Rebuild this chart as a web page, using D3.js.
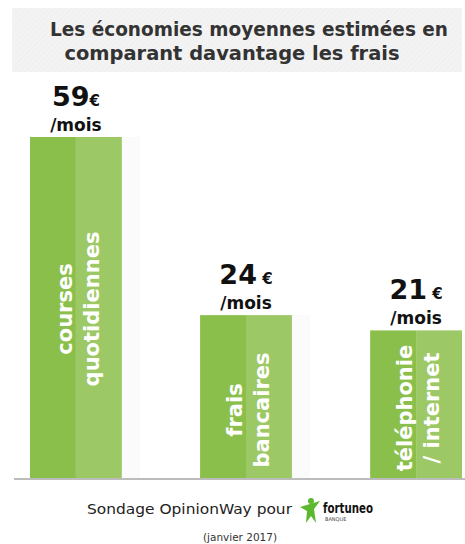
<!DOCTYPE html>
<html>
<head>
<meta charset="utf-8">
<script src="https://cdn.jsdelivr.net/npm/d3@7"></script>
<style>
  html, body { margin: 0; padding: 0; background: #fff; }
  svg { display: block; }
</style>
</head>
<body>
<div id="chart"></div>
<script>
// data
const categories = ['courses quotidiennes', 'frais bancaires', 'téléphonie / internet'];
const labelLines = [['courses', 'quotidiennes'], ['frais', 'bancaires'], ['téléphonie', '/ internet']];
const savings = [59, 24, 21];
const unitLabel = '/mois';
const titleLines = ['Les économies moyennes estimées en', 'comparant davantage les frais'];

const width = 465;
const height = 544;
const font = '"DejaVu Sans", Lato, sans-serif';
const darkGreen = '#8bbf4c';
const lightGreen = '#9cc865';

const svg = d3.select('#chart')
  .append('svg')
  .attr('width', width)
  .attr('height', height);

// hatched title panel
const defs = svg.append('defs');
const hatch = defs.append('pattern')
  .attr('id', 'hatch')
  .attr('width', 4)
  .attr('height', 4)
  .attr('patternUnits', 'userSpaceOnUse')
  .attr('patternTransform', 'rotate(45)');
hatch.append('rect').attr('width', 4).attr('height', 4).attr('fill', '#f3f3f3');
hatch.append('line').attr('x1', 0).attr('y1', 0).attr('x2', 0).attr('y2', 4)
  .attr('stroke', '#ebebeb').attr('stroke-width', 1);

svg.append('rect')
  .attr('x', 12).attr('y', 8)
  .attr('width', 450).attr('height', 64)
  .attr('fill', 'url(#hatch)');

const titleX = [249, 232];
const titleW = [398, 335];
svg.append('g')
  .selectAll('text')
  .data(titleLines)
  .enter().append('text')
  .attr('x', (d, i) => titleX[i])
  .attr('y', (d, i) => 36 + i * 24)
  .attr('text-anchor', 'middle')
  .attr('font-family', font)
  .attr('font-weight', 'bold')
  .attr('font-size', 19)
  .attr('fill', '#333')
  .attr('textLength', (d, i) => titleW[i])
  .attr('lengthAdjust', 'spacingAndGlyphs')
  .text(d => d);

// scales
const x = d3.scaleBand()
  .domain(categories)
  .range([30, 462])
  .paddingInner(0.46)
  .paddingOuter(0);

const baseY = 478;
const y = d3.scaleLinear()
  .domain([-8, 59])
  .range([baseY, 137]);

const bars = svg.append('g')
  .selectAll('g')
  .data(categories)
  .enter().append('g')
  .attr('transform', d => 'translate(' + x(d) + ',0)');

const bw = x.bandwidth();

// faint shadow to the right
bars.append('rect')
  .attr('x', bw)
  .attr('y', (d, i) => y(savings[i]))
  .attr('width', 18)
  .attr('height', (d, i) => baseY - y(savings[i]))
  .attr('fill', '#fbfbfb');

bars.append('rect')
  .attr('x', 0)
  .attr('y', (d, i) => y(savings[i]))
  .attr('width', bw / 2)
  .attr('height', (d, i) => baseY - y(savings[i]))
  .attr('fill', darkGreen);

bars.append('rect')
  .attr('x', bw / 2)
  .attr('y', (d, i) => y(savings[i]))
  .attr('width', bw / 2)
  .attr('height', (d, i) => baseY - y(savings[i]))
  .attr('fill', lightGreen);

// rotated labels inside bars
const labelCenter = [309, 410, 408];
bars.each(function (d, i) {
  const g = d3.select(this).append('g')
    .attr('transform', 'translate(' + (bw / 2) + ',' + labelCenter[i] + ') rotate(-90)');
  g.selectAll('text')
    .data(labelLines[i])
    .enter().append('text')
    .attr('x', 0)
    .attr('y', (t, j) => j === 0 ? -4 : 23)
    .attr('text-anchor', 'middle')
    .attr('font-family', font)
    .attr('font-weight', 'bold')
    .attr('font-size', 21)
    .attr('fill', '#fff')
    .text(t => t);
});

// value labels above bars
bars.each(function (d, i) {
  const top = y(savings[i]);
  const t = d3.select(this).append('text')
    .attr('x', bw / 2)
    .attr('y', top - 31)
    .attr('text-anchor', 'middle')
    .attr('font-family', font)
    .attr('font-weight', 'bold')
    .attr('fill', '#111');
  t.append('tspan').attr('font-size', 27).text(savings[i]);
  t.append('tspan').attr('font-size', 15).text(i === 0 ? '€' : ' €');
  d3.select(this).append('text')
    .attr('x', bw / 2)
    .attr('y', top - 6)
    .attr('text-anchor', 'middle')
    .attr('font-family', font)
    .attr('font-weight', 'bold')
    .attr('font-size', 17)
    .attr('fill', '#111')
    .text(unitLabel);
});

// baseline
svg.append('line')
  .attr('x1', 14).attr('x2', width)
  .attr('y1', baseY + 1).attr('y2', baseY + 1)
  .attr('stroke', '#bcbcbc')
  .attr('stroke-width', 2);

// footer
svg.append('text')
  .attr('x', 87)
  .attr('y', 514)
  .attr('font-family', font)
  .attr('font-size', 14)
  .attr('fill', '#222')
  .attr('textLength', 205)
  .attr('lengthAdjust', 'spacingAndGlyphs')
  .text('Sondage OpinionWay pour');

const logo = svg.append('g').attr('transform', 'translate(310,0)');
logo.append('circle').attr('cx', 1).attr('cy', 501).attr('r', 3).attr('fill', '#5cb82e');
logo.append('path')
  .attr('d', 'M-10,507 L10,501 L4,509 L6,523 L1,516 L-4,523 L-3,511 Z')
  .attr('fill', '#5cb82e');

svg.append('text')
  .attr('x', 323)
  .attr('y', 513)
  .attr('font-family', font)
  .attr('font-weight', 'bold')
  .attr('font-size', 14)
  .attr('fill', '#111')
  .attr('textLength', 50)
  .attr('lengthAdjust', 'spacingAndGlyphs')
  .text('fortuneo');

svg.append('text')
  .attr('x', 325)
  .attr('y', 521)
  .attr('font-family', font)
  .attr('font-size', 5)
  .attr('fill', '#444')
  .text('BANQUE');

svg.append('text')
  .attr('x', 240)
  .attr('y', 541)
  .attr('text-anchor', 'middle')
  .attr('font-family', font)
  .attr('font-size', 11)
  .attr('fill', '#333')
  .attr('textLength', 74)
  .attr('lengthAdjust', 'spacingAndGlyphs')
  .text('(janvier 2017)');
</script>
</body>
</html>
